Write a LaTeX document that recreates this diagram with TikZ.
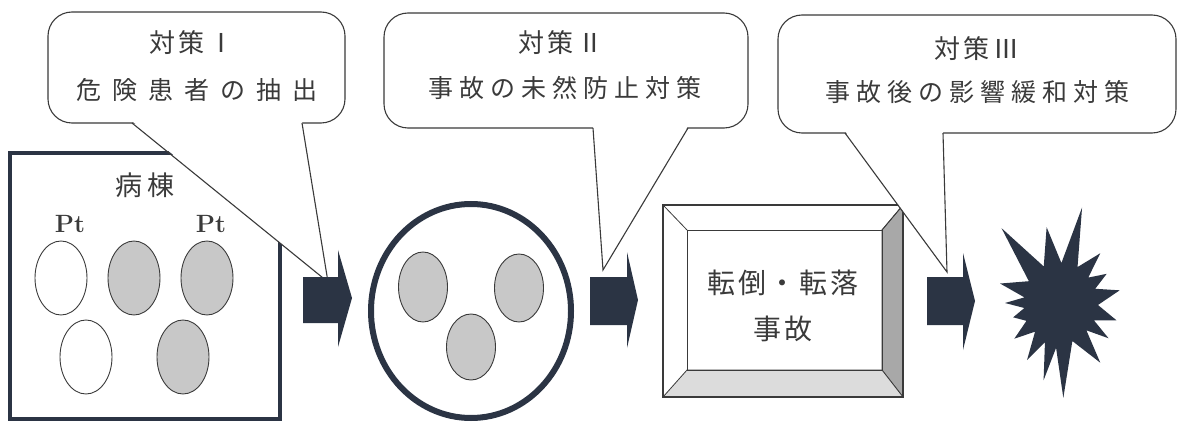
\documentclass[tikz,border=0pt]{standalone}
\usepackage{fontspec}
\newfontfamily\jp{Noto Sans CJK JP}
\usetikzlibrary{shapes.geometric}
\definecolor{navy}{HTML}{2B3444}
\definecolor{ink}{HTML}{3A3A3A}
\definecolor{egg}{HTML}{C8C8C8}
\definecolor{bevR}{HTML}{A8A8A8}
\definecolor{bevB}{HTML}{DCDCDC}
\begin{document}
\begin{tikzpicture}[x=1pt,y=-1pt,
  callout/.style={draw=ink, line width=1.1pt, fill=white, rounded corners=24pt},
  tail/.style={draw=ink, line width=1.1pt},
  ctext/.style={text=ink, inner sep=0pt, font=\jp\fontsize{25}{30}\selectfont},
  patient/.style={ellipse, draw=ink, line width=0.9pt, minimum width=52pt, minimum height=74pt, inner sep=0pt},
  sick/.style={patient, fill=egg},
  well/.style={patient, fill=white},
  bigarrow/.style={fill=navy},
  bevline/.style={draw=ink, line width=0.8pt}
]
\useasboundingbox (0,0) rectangle (1178,422);

% ward
\node[draw=navy, line width=4pt, minimum width=270pt, minimum height=265pt, inner sep=0pt] (ward) at (145,286) {};
\node[ctext, font=\jp\fontsize{27}{30}\selectfont\addfontfeature{LetterSpace=20}] (wardlbl) at (145,185) {病棟};
\node[text=ink, inner sep=0pt, font=\fontsize{25}{28}\selectfont\bfseries] (pt1) at (70,224) {Pt};
\node[text=ink, inner sep=0pt, font=\fontsize{25}{28}\selectfont\bfseries] (pt2) at (211,224) {Pt};
\node[well] (p1) at (61,278) {};
\node[sick] (p2) at (134,278) {};
\node[sick] (p3) at (207,278) {};
\node[well] (p4) at (86,357) {};
\node[sick] (p5) at (183,357) {};

% ring
\node[ellipse, draw=navy, line width=6pt, minimum width=200pt, minimum height=214pt, inner sep=0pt] (ring) at (471,311) {};
\node[sick, minimum width=49pt, minimum height=70pt] (q1) at (423,287) {};
\node[sick, minimum width=49pt, minimum height=68pt] (q2) at (519,288) {};
\node[sick, minimum width=49pt, minimum height=66pt] (q3) at (471,347) {};

% bevel box
\fill[white] (663,205) rectangle (903,397);
\filldraw[bevline, fill=bevR] (903,205) -- (903,397) -- (882,370) -- (882,230) -- cycle;
\filldraw[bevline, fill=bevB] (663,397) -- (903,397) -- (882,370) -- (687,370) -- cycle;
\draw[bevline] (663,205) -- (687,230) (903,205) -- (882,230);
\draw[bevline] (687,230) rectangle (882,370);
\node[draw=ink, line width=1.3pt, minimum width=240pt, minimum height=192pt, inner sep=0pt] (acc) at (783,301) {};
\node[ctext, font=\jp\fontsize{28}{30}\selectfont\addfontfeature{LetterSpace=10}] (acc1) at (783,283) {転倒・転落};
\node[ctext, font=\jp\fontsize{28}{30}\selectfont\addfontfeature{LetterSpace=10}] (acc2) at (783,329) {事故};

% callout 1
\path[callout] (48,12) rectangle (345,123);
\fill[white] (132,121) -- (328,282) -- (302,121) -- cycle;
\draw[tail] (132,123) -- (328,282) -- (302,123);
\node[ctext, font=\jp\fontsize{26}{30}\selectfont\addfontfeature{LetterSpace=14}] (c1a) at (192,43) {対策Ⅰ};
\node[ctext, font=\jp\fontsize{25}{30}\selectfont\addfontfeature{LetterSpace=44}] (c1b) at (197,90) {危険患者の抽出};

% callout 2
\path[callout] (384,13) rectangle (748,128);
\fill[white] (593,126) -- (603,270) -- (688,126) -- cycle;
\draw[tail] (593,128) -- (603,270) -- (688,128);
\node[ctext, font=\jp\fontsize{26}{30}\selectfont\addfontfeature{LetterSpace=14}] (c2a) at (561,43) {対策Ⅱ};
\node[ctext, font=\jp\fontsize{25}{30}\selectfont\addfontfeature{LetterSpace=24}] (c2b) at (565,88) {事故の未然防止対策};

% callout 3
\path[callout] (778,15) rectangle (1176,133);
\fill[white] (845,131) -- (947,272) -- (943,131) -- cycle;
\draw[tail] (845,133) -- (947,272) -- (943,133);
\node[ctext, font=\jp\fontsize{26}{30}\selectfont\addfontfeature{LetterSpace=14}] (c3a) at (977,49) {対策Ⅲ};
\node[ctext, font=\jp\fontsize{25}{30}\selectfont\addfontfeature{LetterSpace=24}] (c3b) at (977,92) {事故後の影響緩和対策};

% block arrows
\fill[bigarrow] (303,277) -- (338,277) -- (338,250) -- (352,298) -- (338,347) -- (338,323) -- (303,323) -- cycle;
\fill[bigarrow] (590,277) -- (627,277) -- (627,252) -- (638,300) -- (627,348) -- (627,325) -- (590,325) -- cycle;
\fill[bigarrow] (927,277) -- (963,277) -- (963,253) -- (975,301) -- (963,350) -- (963,325) -- (927,325) -- cycle;

% starburst
\fill[navy] ({1060+63*cos(162)},{303-63*sin(162)})
  \foreach \a/\r in {145/38,128/95,114/40,100/77,88/40,77/98,64/40,51/64,42/38,32/55,22/38,12/61,-3/38,-17/59,-27/38,-36/60,-46/38,-56/72,-72/40,-88/95,-95/45,-102/79,-111/42,-120/66,-131/38,-142/58,-152/38,-163/49,-172/36,-180/55,-189/36}
  { -- ({1060+\r*cos(\a)},{303-\r*sin(\a)}) } -- cycle;
\end{tikzpicture}
\end{document}
